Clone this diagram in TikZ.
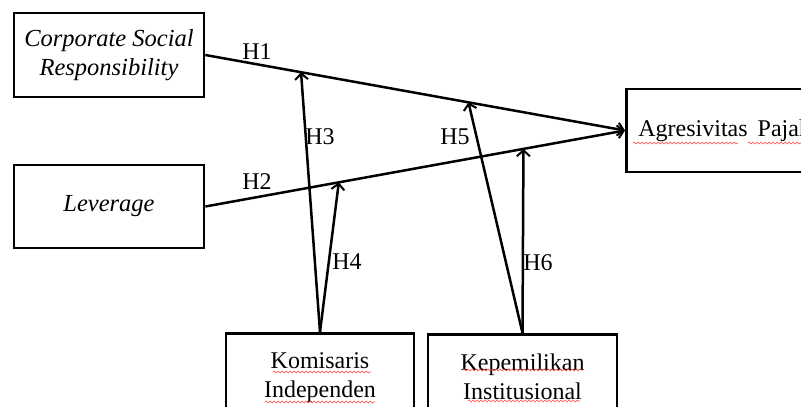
\documentclass[tikz,border=0pt]{standalone}
\usepackage{fontspec}
\setmainfont{Liberation Serif}
\usetikzlibrary{arrows.meta,calc,decorations.pathmorphing}
\begin{document}
\begin{tikzpicture}[x=1pt,y=-1pt,
 box/.style={draw,line width=2.7pt,inner sep=0pt,align=center,font=\fontsize{24}{29.5}\selectfont},
 arr/.style={line width=2.5pt,-{Straight Barb[length=6pt,width=13pt,line width=2pt]}},
 lbl/.style={font=\fontsize{24}{27}\selectfont,inner sep=0pt},
 spell/.style={red!75,line width=0.6pt,decorate,decoration={snake,amplitude=0.9pt,segment length=4pt}}]
\clip (0,0) rectangle (801,407);
\fill[white] (0,0) rectangle (801,407);
% boxes
\node[box,font=\fontsize{24.5}{29.5}\selectfont\itshape,minimum width=190pt,minimum height=84pt] (csr) at (109,55) {Corporate Social\\Responsibility};
\node[box,font=\fontsize{24.5}{29.5}\selectfont\itshape,minimum width=190pt,minimum height=83pt] (lev) at (109,206.5) {Leverage};
\node[box,anchor=west,minimum width=210pt,minimum height=83pt,text width=186pt,align=left,inner xsep=12pt] (agr) at (625,130.5) {Agresivitas\hspace{10pt}Pajak};
\node[box,anchor=north,minimum width=188pt,inner ysep=19pt] (kom) at (320,332) {Komisaris\\Independen};
\node[box,anchor=north,minimum width=189pt,inner ysep=19pt] (kep) at (522.5,333) {Kepemilikan\\Institusional};
% points on the main paths
\coordinate (c3) at ($(csr.east)!0.228!(agr.west)$);
\coordinate (c5) at ($(csr.east)!0.627!(agr.west)$);
\coordinate (c4) at ($(lev.east)!0.318!(agr.west)$);
\coordinate (c6) at ($(lev.east)!0.758!(agr.west)$);
% connectors
\draw[arr] (csr.east) -- (agr.west);
\draw[arr] (lev.east) -- (agr.west);
\draw[arr] (kom.north) -- (c3);
\draw[arr] (kom.north) -- (c4);
\draw[arr] (kep.north) -- (c5);
\draw[arr] (kep.north) -- (c6);
% labels
\node[lbl] (h1) at (257,52) {H1};
\node[lbl] (h2) at (257,182) {H2};
\node[lbl] (h3) at (320,137) {H3};
\node[lbl] (h4) at (347,262) {H4};
\node[lbl] (h5) at (455,137) {H5};
\node[lbl] (h6) at (538,263) {H6};
% spell-check underlines
\draw[spell] (633,143) -- (738,143);
\draw[spell] (748,143) -- (801,143);
\draw[spell] (273,372) -- (371,372);
\draw[spell] (265,402) -- (375,402);
\draw[spell] (463,370) -- (583,370);
\draw[spell] (468,401) -- (580,401);
\end{tikzpicture}
\end{document}
